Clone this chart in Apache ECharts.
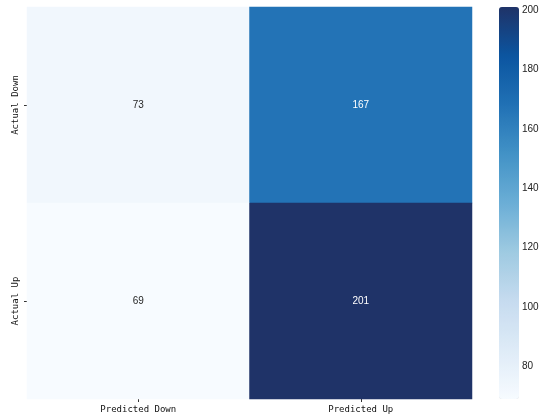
<!DOCTYPE html>
<html>
<head>
<meta charset="utf-8">
<script src="https://cdn.jsdelivr.net/npm/echarts@6/dist/echarts.min.js"></script>
<style>
  html, body { margin: 0; padding: 0; background: #fff; }
  #chart { width: 550px; height: 420px; }
</style>
</head>
<body>
<div id="chart"></div>
<script>
// confusion matrix data
const predictedLabels = ['Predicted Down', 'Predicted Up'];
const actualLabels = ['Actual Down', 'Actual Up'];
const rowDown = [73, 167];
const rowUp = [69, 201];
const colorbarTicks = [80, 100, 120, 140, 160, 180, 200];

const rows = [rowDown, rowUp];
const allValues = rows.flat();
const vMin = Math.min(...allValues);
const vMax = Math.max(...allValues);

// Blues colormap
const blues = ['#f7fbff', '#deebf7', '#c6dbef', '#9ecae1', '#6baed6', '#4292c6', '#2171b5', '#0b55a0', '#1f3368'];

const cells = [];
rows.forEach((row, r) => {
  row.forEach((v, c) => {
    const dark = (v - vMin) / (vMax - vMin) > 0.5;
    cells.push({ value: [c, r, v], label: { color: dark ? '#ffffff' : '#262626' } });
  });
});

const monoFont = '"DejaVu Sans Mono", "Liberation Mono", monospace';

const chart = echarts.init(document.getElementById('chart'));
chart.setOption({
  backgroundColor: '#ffffff',
  animation: false,
  grid: [
    { left: 27, right: 78, top: 7, bottom: 21 },
    { left: 499, width: 20, top: 7, height: 392 }
  ],
  xAxis: [
    {
      type: 'category',
      gridIndex: 0,
      data: predictedLabels,
      axisLine: { show: false },
      axisTick: { show: true, alignWithLabel: true, length: 3, lineStyle: { color: '#333' } },
      axisLabel: { fontFamily: monoFont, fontSize: 9, color: '#111', margin: 6 },
      splitLine: { show: false }
    },
    {
      type: 'value',
      gridIndex: 1,
      show: false
    }
  ],
  yAxis: [
    {
      type: 'category',
      gridIndex: 0,
      inverse: true,
      data: actualLabels,
      axisLine: { show: false },
      axisTick: { show: true, alignWithLabel: true, length: 3, lineStyle: { color: '#333' } },
      axisLabel: { fontFamily: monoFont, fontSize: 9, color: '#111', rotate: 90, margin: 7 },
      splitLine: { show: false }
    },
    {
      type: 'value',
      gridIndex: 1,
      position: 'right',
      min: vMin,
      max: vMax,
      axisLine: { show: false },
      axisTick: { show: true, length: 4, inside: false, customValues: colorbarTicks, lineStyle: { color: '#333' } },
      axisLabel: { fontFamily: '"Liberation Sans", Arial, sans-serif', fontSize: 10, color: '#222', margin: 3, customValues: colorbarTicks },
      splitLine: { show: false }
    }
  ],
  visualMap: {
    type: 'continuous',
    seriesIndex: 0,
    min: vMin,
    max: vMax,
    calculable: false,
    showLabel: false,
    text: null,
    left: 499,
    top: 7,
    padding: 0,
    itemWidth: 20,
    itemHeight: 392,
    inRange: { color: blues }
  },
  series: [
    {
      type: 'heatmap',
      xAxisIndex: 0,
      yAxisIndex: 0,
      data: cells,
      itemStyle: { borderWidth: 0 },
      emphasis: { disabled: true },
      label: {
        show: true,
        fontFamily: '"Liberation Sans", Arial, sans-serif',
        fontSize: 10,
        formatter: p => p.value[2]
      }
    }
  ]
});
</script>
</body>
</html>
